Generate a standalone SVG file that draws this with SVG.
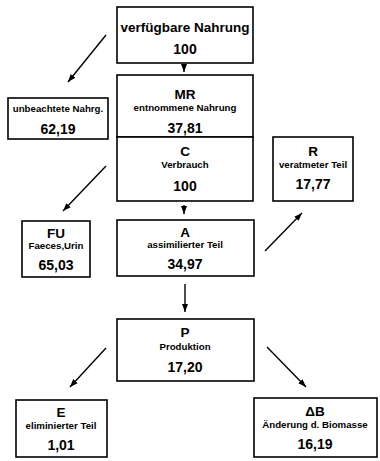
<svg xmlns="http://www.w3.org/2000/svg" width="380" height="461" viewBox="0 0 380 461">
<style>
.box{fill:#fff;stroke:#000;stroke-width:1.6}
text{font-family:"Liberation Sans",Arial,sans-serif;font-weight:bold;fill:#000;text-anchor:middle}
.big{font-size:13.5px}
.num{font-size:14px}
.sm{font-size:9.7px}
.con line{stroke:#000;stroke-width:1.4;fill:none}
</style>
<defs>
<marker id="ah" markerUnits="userSpaceOnUse" markerWidth="8" markerHeight="8" viewBox="0 0 8 8" refX="8" refY="4" orient="auto">
<path d="M0,1 L8,4 L0,7 Z" fill="#000"/>
</marker>
</defs>
<g id="verfuegbar"><rect class="box" x="117" y="7" width="136" height="56"/>
<text class="big" x="185" y="32">verfügbare Nahrung</text>
<text class="num" x="185" y="54">100</text></g>
<g id="MR"><rect class="box" x="117" y="75" width="136" height="62"/>
<text class="big" x="185" y="99">MR</text>
<text class="sm" x="185" y="111">entnommene Nahrung</text>
<text class="num" x="185" y="133">37,81</text></g>
<g id="C"><rect class="box" x="117" y="137" width="136" height="64"/>
<text class="big" x="185" y="156">C</text>
<text class="sm" x="185" y="168">Verbrauch</text>
<text class="num" x="185" y="191">100</text></g>
<g id="unbeachtet"><rect class="box" x="8" y="98" width="100" height="41"/>
<text class="sm" x="58" y="112">unbeachtete Nahrg.</text>
<text class="num" x="58" y="134">62,19</text></g>
<g id="R"><rect class="box" x="273" y="137" width="80" height="64"/>
<text class="big" x="313" y="156">R</text>
<text class="sm" x="313" y="168">veratmeter Teil</text>
<text class="num" x="313" y="189">17,77</text></g>
<g id="FU"><rect class="box" x="22" y="221" width="68" height="56"/>
<text class="big" x="56" y="238">FU</text>
<text class="sm" x="56" y="249">Faeces,Urin</text>
<text class="num" x="56" y="270">65,03</text></g>
<g id="A"><rect class="box" x="117" y="220" width="137" height="56"/>
<text class="big" x="185" y="237">A</text>
<text class="sm" x="185" y="248">assimilierter Teil</text>
<text class="num" x="185" y="269">34,97</text></g>
<g id="P"><rect class="box" x="117" y="319" width="137" height="62"/>
<text class="big" x="185" y="337">P</text>
<text class="sm" x="185" y="350">Produktion</text>
<text class="num" x="185" y="372">17,20</text></g>
<g id="E"><rect class="box" x="16" y="400" width="91" height="57"/>
<text class="big" x="61" y="417">E</text>
<text class="sm" x="61" y="429">eliminierter Teil</text>
<text class="num" x="61" y="450">1,01</text></g>
<g id="dB"><rect class="box" x="254" y="398" width="123" height="59"/>
<text class="big" x="315" y="416">ΔB</text>
<text class="sm" x="315" y="428">Änderung d. Biomasse</text>
<text class="num" x="315" y="449">16,19</text></g>
<g class="con" id="connectors">
<line x1="184" y1="66" x2="184" y2="72" marker-end="url(#ah)"/>
<line x1="106" y1="35" x2="68" y2="82" marker-end="url(#ah)"/>
<line x1="106" y1="166" x2="63" y2="211" marker-end="url(#ah)"/>
<line x1="184" y1="205" x2="184" y2="214" marker-end="url(#ah)"/>
<line x1="265" y1="251" x2="302" y2="213" marker-end="url(#ah)"/>
<line x1="185" y1="284" x2="185" y2="312" marker-end="url(#ah)"/>
<line x1="106" y1="348" x2="70" y2="387" marker-end="url(#ah)"/>
<line x1="267" y1="347" x2="306" y2="387" marker-end="url(#ah)"/>
</g>
</svg>
